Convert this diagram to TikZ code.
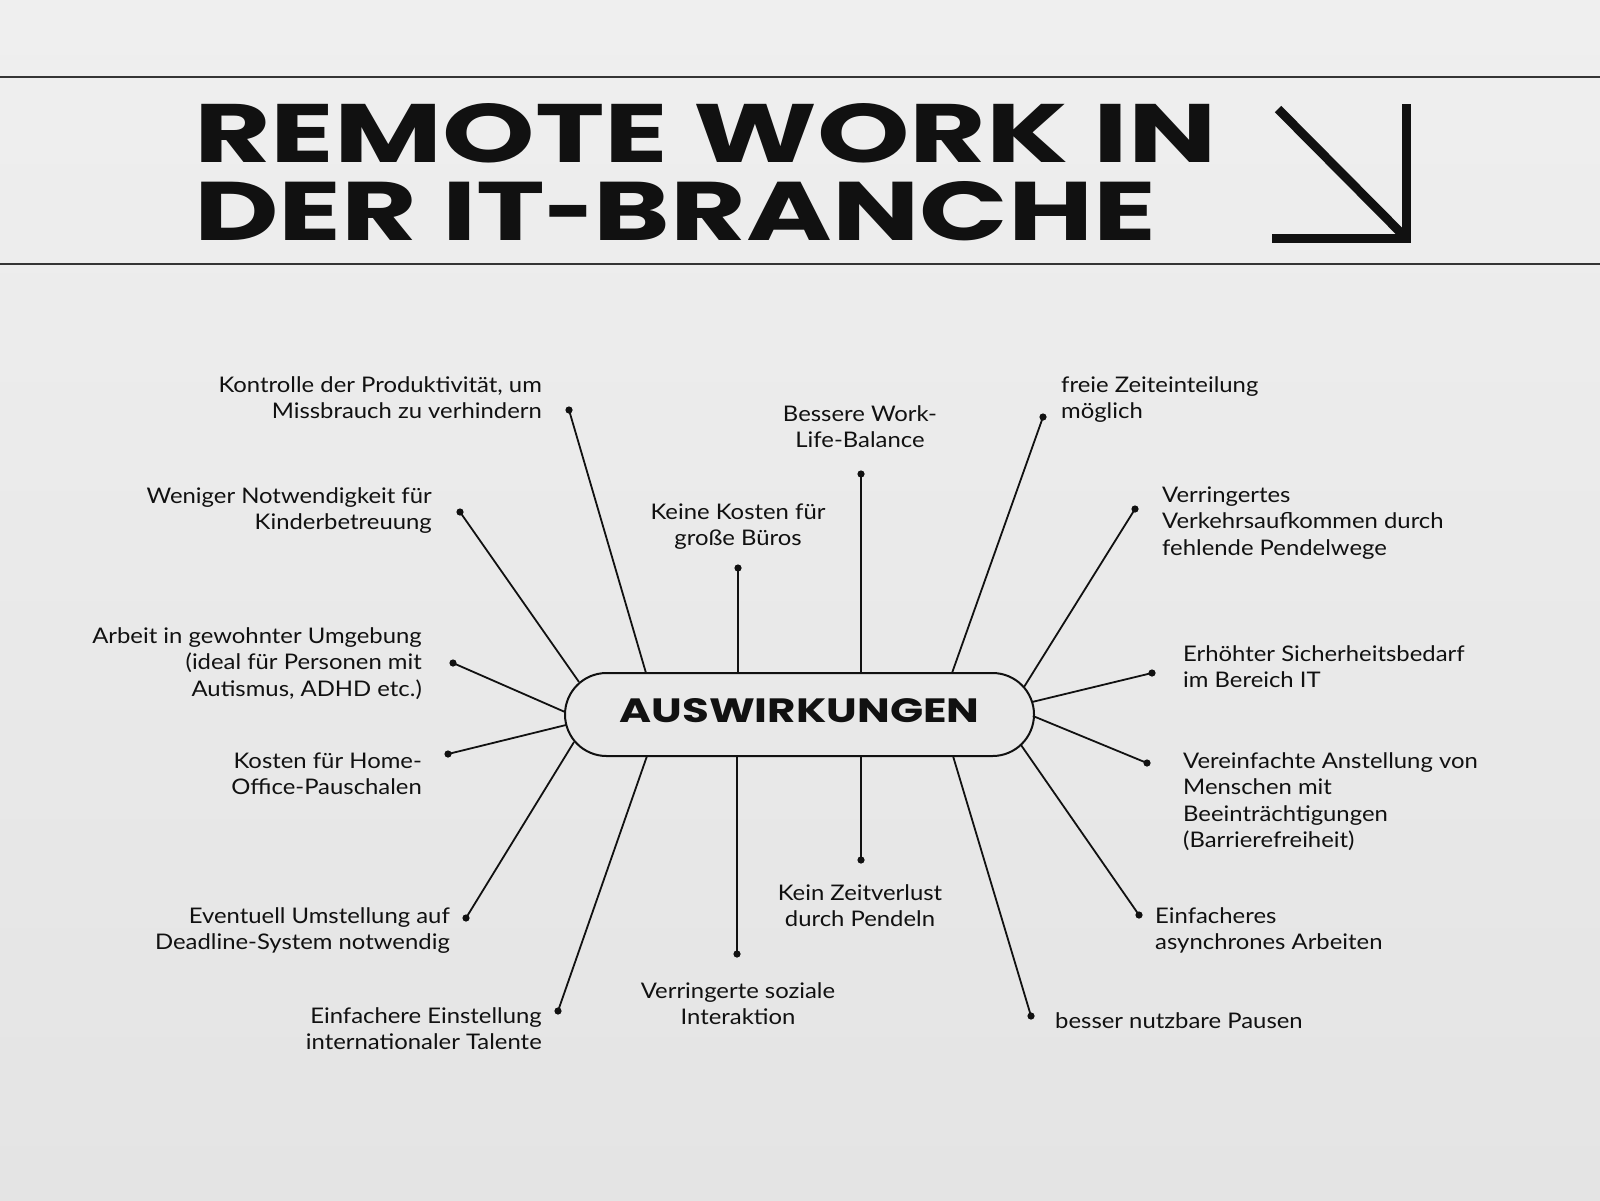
\documentclass[tikz,border=0pt]{standalone}
\usepackage{fontspec}
\setmainfont{Lato}[FakeStretch=1.11]
\newfontfamily\titlefont{Poppins}
\usetikzlibrary{shapes.misc}
\definecolor{bgtop}{HTML}{EFEFEF}
\definecolor{bgbot}{HTML}{E4E4E4}
\definecolor{ink}{HTML}{111111}
\newcommand\lblR[1]{\begin{tabular}[t]{@{}r@{}}#1\end{tabular}}
\newcommand\lblL[1]{\begin{tabular}[t]{@{}l@{}}#1\end{tabular}}
\newcommand\lblC[1]{\begin{tabular}[t]{@{}c@{}}#1\end{tabular}}
\tikzset{
  lbl/.style={inner sep=0pt, text=ink, font=\fontsize{21.5}{26.5}\selectfont},
  conn/.style={draw=ink, line width=1.8pt},
  dotmark/.style={fill=ink},
  rule/.style={draw=ink!85, line width=2pt},
}
\begin{document}
\begin{tikzpicture}[x=1pt,y=-1pt]
\useasboundingbox (0,0) rectangle (1600,1200);
\shade[top color=bgtop, bottom color=bgbot] (0,0) rectangle (1600,1200);
% rules
\draw[rule] (0,77) -- (1600,77);
\draw[rule] (0,264) -- (1600,264);
% title
\node[inner sep=0, anchor=base west, text=ink] (t1) at (194,162) {\resizebox{1022pt}{59pt}{\titlefont\bfseries REMOTE WORK IN}};
\node[inner sep=0, anchor=base west, text=ink] (t2) at (194,240) {\resizebox{962pt}{59pt}{\titlefont\bfseries DER IT\scalebox{0.72}[1]{-}BRANCHE}};
% arrow
\draw[ink, line width=9pt, miter limit=10] (1406,104) -- (1406,238) -- (1272,238);
\draw[ink, line width=9pt] (1278,109) -- (1404,236);
% center node
\node[draw=ink, line width=2pt, rounded rectangle, minimum width=469pt, minimum height=83pt, inner sep=0, text=ink] (c) at (799.5,714.5)
  {\raisebox{4.5pt}[24pt][0pt]{\resizebox{360pt}{24pt}{\titlefont\bfseries AUSWIRKUNGEN}}};
% dots and inner ends
\foreach \n/\dx/\dy/\ex/\ey in {
  1/569/410/646/673, 2/460/512/579/682, 3/453/663/565/712, 4/448/754/566/725,
  5/466/918/574/742, 6/558/1011/647/756, 7/738/568/738/673, 8/861/474/861/673,
  9/861/860/861/756, 10/737/954/737/756, 11/1043/417/952/673, 12/1135/509/1024/687,
  13/1152/673/1032/702, 14/1147/763/1033/716, 15/1139/915/1021/745, 16/1031/1016/953/756}{
  \coordinate (d\n) at (\dx,\dy);
  \coordinate (e\n) at (\ex,\ey);
  \draw[conn] (d\n) -- (e\n);
  \fill[dotmark] (d\n) circle (3.6pt);
}
% labels
\node[lbl, anchor=base east] (l1) at (542,392) {\lblR{Kontrolle der Produktivität, um\\Missbrauch zu verhindern}};
\node[lbl, anchor=base east] (l2) at (432,503) {\lblR{Weniger Notwendigkeit für\\Kinderbetreuung}};
\node[lbl, anchor=base east] (l3) at (422,643) {\lblR{Arbeit in gewohnter Umgebung\\(ideal für Personen mit\\Autismus, ADHD etc.)}};
\node[lbl, anchor=base east] (l4) at (422,768) {\lblR{Kosten für Home-\\Office-Pauschalen}};
\node[lbl, anchor=base east] (l5) at (450,923) {\lblR{Eventuell Umstellung auf\\Deadline-System notwendig}};
\node[lbl, anchor=base east] (l6) at (542,1023) {\lblR{Einfachere Einstellung\\internationaler Talente}};
\node[lbl, anchor=base] (l7) at (738,519) {\lblC{Keine Kosten für\\große Büros}};
\node[lbl, anchor=base] (l8) at (860,421) {\lblC{Bessere Work-\\Life-Balance}};
\node[lbl, anchor=base] (l9) at (860,900) {\lblC{Kein Zeitverlust\\durch Pendeln}};
\node[lbl, anchor=base] (l10) at (738,998) {\lblC{Verringerte soziale\\Interaktion}};
\node[lbl, anchor=base west] (l11) at (1061,392) {\lblL{freie Zeiteinteilung\\möglich}};
\node[lbl, anchor=base west] (l12) at (1162,502) {\lblL{Verringertes\\Verkehrsaufkommen durch\\fehlende Pendelwege}};
\node[lbl, anchor=base west] (l13) at (1183,661) {\lblL{Erhöhter Sicherheitsbedarf\\im Bereich IT}};
\node[lbl, anchor=base west] (l14) at (1183,768) {\lblL{Vereinfachte Anstellung von\\Menschen mit\\Beeinträchtigungen\\(Barrierefreiheit)}};
\node[lbl, anchor=base west] (l15) at (1155,923) {\lblL{Einfacheres\\asynchrones Arbeiten}};
\node[lbl, anchor=base west] (l16) at (1055,1028) {\lblL{besser nutzbare Pausen}};
\end{tikzpicture}
\end{document}
